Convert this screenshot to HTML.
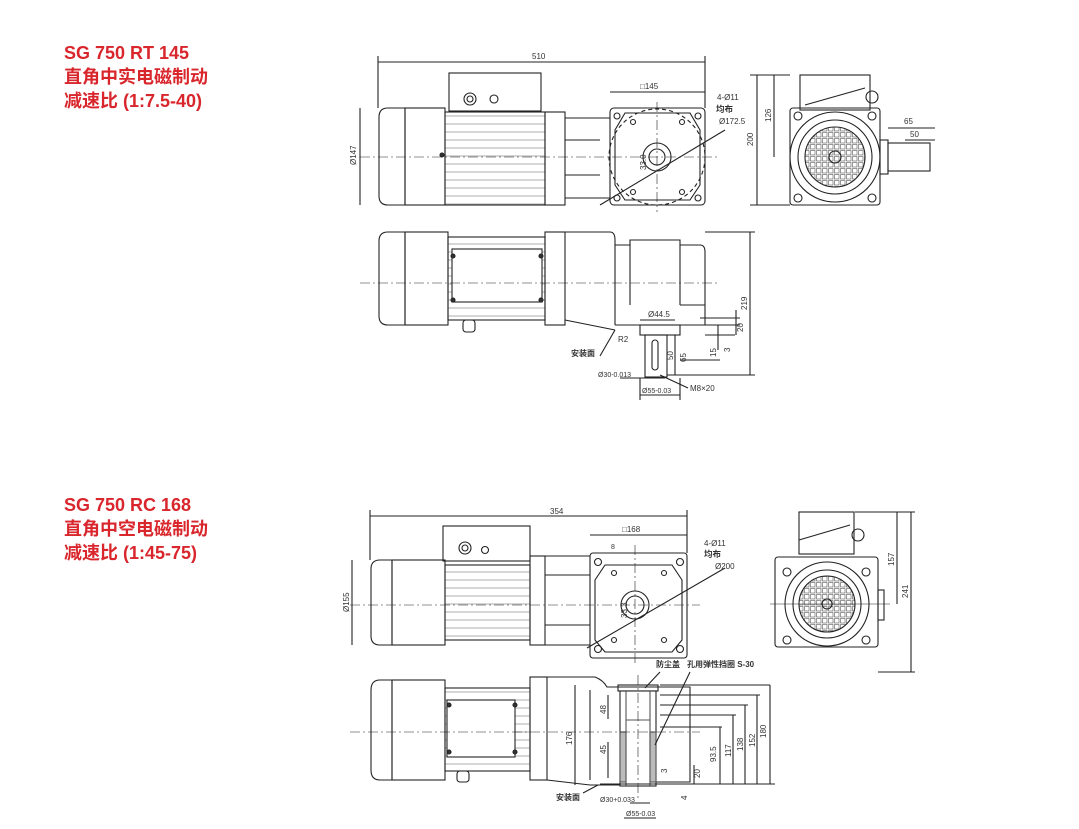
<!DOCTYPE html>
<html><head><meta charset="utf-8"><style>
html,body{margin:0;padding:0;background:#fff;width:1079px;height:829px;overflow:hidden}
.t{position:absolute;left:64px;color:#d9262c;font-family:"Liberation Sans","Noto Sans CJK SC",sans-serif;font-weight:bold;font-size:18px;line-height:24px}
svg{position:absolute;left:0;top:0}
</style></head><body>
<div class="t" style="top:41px">SG 750 RT 145<br>直角中实电磁制动<br>减速比 (1:7.5-40)</div>
<div class="t" style="top:493px">SG 750 RC 168<br>直角中空电磁制动<br>减速比 (1:45-75)</div>
<svg width="1079" height="829" viewBox="0 0 1079 829" font-family="Liberation Sans,Noto Sans CJK SC,sans-serif" font-size="8" fill="none" stroke="#222" stroke-width="1.1">
<defs><pattern id="g" width="6" height="6" patternUnits="userSpaceOnUse"><rect x="0.5" y="0.5" width="4.5" height="4.5" fill="#fff" stroke="#555" stroke-width="0.6"/></pattern>
<pattern id="fin" width="8" height="8" patternUnits="userSpaceOnUse"><line x1="0" y1="4" x2="8" y2="4" stroke="#777" stroke-width="0.6"/></pattern></defs>

<!-- ===== TOP VIEW 1 ===== -->
<line x1="378" y1="62" x2="705" y2="62"/><line x1="378" y1="56" x2="378" y2="108"/><line x1="705" y1="56" x2="705" y2="108"/>
<text x="532" y="59" fill="#333" stroke="none">510</text>
<rect x="449" y="73" width="92" height="38"/><circle cx="470" cy="99" r="6"/><circle cx="470" cy="99" r="3"/><circle cx="494" cy="99" r="4"/>
<path d="M388 108 H405 V205 H388 Q379 205 379 196 V117 Q379 108 388 108Z"/>
<rect x="405" y="108" width="40" height="97"/>
<rect x="445" y="112" width="100" height="93" fill="url(#fin)"/>
<circle cx="442" cy="155" r="2" fill="#333"/>
<rect x="545" y="112" width="20" height="93"/><path d="M565 118 H610 M565 198 H610 M565 140 H600 M565 175 H600"/>
<rect x="610" y="108" width="95" height="97" rx="4"/>
<path d="M625 113 H690 L700 130 V185 L690 200 H625 L615 185 V130Z"/>
<circle cx="657" cy="157" r="48" stroke-dasharray="4 3"/>
<circle cx="657" cy="157" r="14"/><circle cx="657" cy="157" r="8"/>
<circle cx="617" cy="116" r="3"/><circle cx="698" cy="116" r="3"/><circle cx="617" cy="198" r="3"/><circle cx="698" cy="198" r="3"/>
<circle cx="633" cy="122" r="2.5"/><circle cx="682" cy="122" r="2.5"/><circle cx="633" cy="192" r="2.5"/><circle cx="682" cy="192" r="2.5"/>
<line x1="360" y1="157" x2="720" y2="157" stroke-dasharray="10 3 2 3" stroke-width="0.6"/>
<line x1="657" y1="102" x2="657" y2="212" stroke-dasharray="10 3 2 3" stroke-width="0.6"/>
<line x1="360" y1="108" x2="360" y2="205"/><text x="356" y="165" fill="#333" stroke="none" transform="rotate(-90 356 165)">Ø147</text>
<line x1="610" y1="92" x2="705" y2="92"/><text x="640" y="89" fill="#333" stroke="none">□145</text>
<line x1="600" y1="205" x2="725" y2="130"/><text x="717" y="100" fill="#333" stroke="none">4-Ø11</text>
<text x="716" y="112" fill="#333" stroke="none" font-weight="bold" font-size="8.5">均布</text><text x="719" y="124" fill="#333" stroke="none">Ø172.5</text>
<text x="646" y="170" fill="#333" stroke="none" transform="rotate(-90 646 170)">33.0</text>
<!-- right view 1 -->
<rect x="800" y="75" width="70" height="35"/><path d="M805 105 L865 88"/><circle cx="872" cy="97" r="6"/>
<rect x="790" y="108" width="90" height="97" rx="3"/>
<circle cx="835" cy="157" r="45"/><circle cx="835" cy="157" r="37"/>
<circle cx="835" cy="157" r="30" fill="url(#g)"/><circle cx="835" cy="157" r="6"/>
<circle cx="798" cy="116" r="4"/><circle cx="872" cy="116" r="4"/><circle cx="798" cy="198" r="4"/><circle cx="872" cy="198" r="4"/>
<rect x="880" y="140" width="8" height="34"/><rect x="888" y="143" width="42" height="28"/>
<line x1="757" y1="75" x2="757" y2="205"/><text x="753" y="146" fill="#333" stroke="none" transform="rotate(-90 753 146)">200</text>
<line x1="774" y1="75" x2="774" y2="157"/><text x="771" y="122" fill="#333" stroke="none" transform="rotate(-90 771 122)">126</text>
<line x1="888" y1="128" x2="935" y2="128"/><text x="904" y="124" fill="#333" stroke="none">65</text>
<line x1="905" y1="140" x2="935" y2="140"/><text x="910" y="137" fill="#333" stroke="none">50</text>
<line x1="750" y1="75" x2="790" y2="75"/><line x1="750" y1="205" x2="790" y2="205"/>

<!-- ===== SIDE VIEW 1 ===== -->
<path d="M388 232 H405 V325 H388 Q379 325 379 316 V241 Q379 232 388 232Z"/>
<rect x="405" y="232" width="43" height="93"/>
<rect x="448" y="237" width="97" height="83" fill="url(#fin)"/>
<rect x="452" y="249" width="90" height="53" fill="#fff"/>
<circle cx="453" cy="256" r="2" fill="#333"/><circle cx="541" cy="256" r="2" fill="#333"/><circle cx="453" cy="300" r="2" fill="#333"/><circle cx="541" cy="300" r="2" fill="#333"/>
<rect x="463" y="320" width="12" height="12" rx="3"/>
<rect x="545" y="232" width="20" height="93"/>
<path d="M565 232 H610 Q615 232 615 240 V325 M565 320 L615 330"/>
<path d="M615 245 H630 V240 H680 V245 H700 Q705 245 705 252 V325 H615"/>
<path d="M630 245 V305 M680 245 V305 M680 305 H705"/>
<rect x="640" y="325" width="40" height="10"/>
<rect x="645" y="335" width="22" height="42"/><rect x="652" y="340" width="6" height="30" rx="3"/>
<line x1="360" y1="283" x2="720" y2="283" stroke-dasharray="10 3 2 3" stroke-width="0.6"/>
<line x1="750" y1="232" x2="750" y2="375"/><line x1="705" y1="232" x2="755" y2="232"/><line x1="667" y1="375" x2="755" y2="375"/>
<text x="747" y="310" fill="#333" stroke="none" transform="rotate(-90 747 310)">219</text>
<line x1="640" y1="320" x2="675" y2="320"/><text x="648" y="317" fill="#333" stroke="none">Ø44.5</text>
<path d="M700 318 H740 M700 325 H740 M705 335 H735 M680 360 H720"/>
<line x1="736" y1="310" x2="736" y2="335"/><text x="743" y="332" fill="#333" stroke="none" transform="rotate(-90 743 332)">20</text>
<line x1="718" y1="325" x2="718" y2="350"/><text x="716" y="357" fill="#333" stroke="none" transform="rotate(-90 716 357)">15</text>
<text x="730" y="352" fill="#333" stroke="none" transform="rotate(-90 730 352)">3</text>
<line x1="675" y1="335" x2="675" y2="375"/><text x="686" y="362" fill="#333" stroke="none" transform="rotate(-90 686 362)">65</text>
<text x="673" y="360" fill="#333" stroke="none" transform="rotate(-90 673 360)">50</text>
<text x="618" y="342" fill="#333" stroke="none">R2</text>
<line x1="600" y1="356" x2="615" y2="330"/><text x="571" y="356" fill="#333" stroke="none" font-weight="bold">安装面</text>
<line x1="620" y1="378" x2="665" y2="378"/><text x="598" y="377" fill="#333" stroke="none" font-size="7">Ø30-0.013</text>
<line x1="640" y1="395" x2="680" y2="395"/><line x1="640" y1="378" x2="640" y2="400"/><line x1="680" y1="378" x2="680" y2="400"/>
<text x="642" y="393" fill="#333" stroke="none" font-size="7">Ø55-0.03</text>
<line x1="660" y1="375" x2="688" y2="388"/><text x="690" y="391" fill="#333" stroke="none">M8×20</text>

<!-- ===== TOP VIEW 2 ===== -->
<line x1="370" y1="516" x2="687" y2="516"/><line x1="370" y1="510" x2="370" y2="560"/><line x1="687" y1="510" x2="687" y2="553"/>
<text x="550" y="514" fill="#333" stroke="none">354</text>
<rect x="443" y="526" width="87" height="35"/><circle cx="465" cy="548" r="6"/><circle cx="465" cy="548" r="3"/><circle cx="485" cy="550" r="3.5"/>
<path d="M380 560 H392 V645 H380 Q371 645 371 636 V569 Q371 560 380 560Z"/>
<rect x="392" y="560" width="53" height="85"/>
<rect x="445" y="565" width="85" height="75" fill="url(#fin)"/>
<rect x="530" y="556" width="15" height="89"/><path d="M545 556 H590 M545 645 H590 M545 575 H590 M545 625 H590"/>
<rect x="590" y="553" width="97" height="105" rx="3"/>
<path d="M605 565 H672 L682 580 V640 L672 652 H605 L595 640 V580Z"/>
<circle cx="635" cy="605" r="14"/><circle cx="635" cy="605" r="9"/>
<circle cx="598" cy="562" r="3.5"/><circle cx="680" cy="562" r="3.5"/><circle cx="598" cy="649" r="3.5"/><circle cx="680" cy="649" r="3.5"/>
<circle cx="614" cy="573" r="2.5"/><circle cx="664" cy="573" r="2.5"/><circle cx="614" cy="640" r="2.5"/><circle cx="664" cy="640" r="2.5"/>
<line x1="350" y1="605" x2="700" y2="605" stroke-dasharray="10 3 2 3" stroke-width="0.6"/>
<line x1="635" y1="545" x2="635" y2="665" stroke-dasharray="10 3 2 3" stroke-width="0.6"/>
<line x1="352" y1="560" x2="352" y2="645"/><text x="349" y="612" fill="#333" stroke="none" transform="rotate(-90 349 612)">Ø155</text>
<line x1="590" y1="535" x2="687" y2="535"/><text x="622" y="532" fill="#333" stroke="none">□168</text>
<text x="611" y="549" fill="#333" stroke="none" font-size="7">8</text>
<line x1="587" y1="648" x2="725" y2="568"/><text x="704" y="546" fill="#333" stroke="none">4-Ø11</text>
<text x="704" y="557" fill="#333" stroke="none" font-weight="bold" font-size="8.5">均布</text><text x="715" y="569" fill="#333" stroke="none">Ø200</text>
<text x="627" y="618" fill="#333" stroke="none" transform="rotate(-90 627 618)">33.3</text>
<!-- right view 2 -->
<rect x="799" y="512" width="55" height="42"/><path d="M799 540 L850 525"/><circle cx="858" cy="535" r="6"/>
<rect x="775" y="557" width="103" height="90" rx="3"/>
<circle cx="827" cy="604" r="42"/><circle cx="827" cy="604" r="34"/>
<circle cx="827" cy="604" r="28" fill="url(#g)"/><circle cx="827" cy="604" r="5"/>
<circle cx="787" cy="572" r="4"/><circle cx="866" cy="572" r="4"/><circle cx="787" cy="640" r="4"/><circle cx="866" cy="640" r="4"/>
<rect x="878" y="590" width="6" height="30"/>
<line x1="770" y1="604" x2="890" y2="604" stroke-width="0.6"/>
<line x1="897" y1="512" x2="897" y2="604"/><text x="894" y="566" fill="#333" stroke="none" transform="rotate(-90 894 566)">157</text>
<line x1="911" y1="512" x2="911" y2="672"/><text x="908" y="598" fill="#333" stroke="none" transform="rotate(-90 908 598)">241</text>
<line x1="855" y1="512" x2="915" y2="512"/><line x1="878" y1="672" x2="915" y2="672"/>

<!-- ===== SIDE VIEW 2 ===== -->
<path d="M380 680 H392 V780 H380 Q371 780 371 770 V690 Q371 680 380 680Z"/>
<rect x="392" y="680" width="53" height="100"/>
<rect x="445" y="688" width="85" height="83" fill="url(#fin)"/>
<rect x="447" y="700" width="68" height="57" fill="#fff"/>
<circle cx="449" cy="705" r="2" fill="#333"/><circle cx="515" cy="705" r="2" fill="#333"/><circle cx="449" cy="752" r="2" fill="#333"/><circle cx="515" cy="752" r="2" fill="#333"/>
<rect x="457" y="771" width="12" height="11" rx="3"/>
<rect x="530" y="677" width="17" height="103"/>
<path d="M547 677 H595 Q603 680 607 687 H690 V782 H640 M547 780 L590 785 H620"/>
<path d="M590 690 V780"/>
<rect x="618" y="685" width="40" height="6"/>
<rect x="620" y="691" width="36" height="95" fill="#fff"/>
<path d="M626 691 V786 M650 691 V786 M626 720 H650" stroke="#555"/>
<rect x="620" y="732" width="6" height="50" fill="#bbb" stroke="#555"/><rect x="650" y="732" width="6" height="50" fill="#bbb" stroke="#555"/>
<line x1="350" y1="732" x2="700" y2="732" stroke-dasharray="10 3 2 3" stroke-width="0.6"/>
<line x1="638" y1="675" x2="638" y2="800" stroke-dasharray="10 3 2 3" stroke-width="0.6"/>
<line x1="575" y1="685" x2="575" y2="785"/><text x="572" y="745" fill="#333" stroke="none" transform="rotate(-90 572 745)">176</text>
<line x1="608" y1="695" x2="608" y2="719"/><text x="606" y="714" fill="#333" stroke="none" transform="rotate(-90 606 714)">48</text>
<line x1="608" y1="742" x2="608" y2="778"/><text x="606" y="754" fill="#333" stroke="none" transform="rotate(-90 606 754)">45</text>
<path d="M660 685 H770 M660 695 H760 M660 705 H748 M660 715 H736 M660 727 H722 M600 784 H775"/>
<line x1="770" y1="685" x2="770" y2="784"/><text x="766" y="738" fill="#333" stroke="none" transform="rotate(-90 766 738)">180</text>
<line x1="757" y1="695" x2="757" y2="784"/><text x="755" y="747" fill="#333" stroke="none" transform="rotate(-90 755 747)">152</text>
<line x1="745" y1="705" x2="745" y2="784"/><text x="743" y="751" fill="#333" stroke="none" transform="rotate(-90 743 751)">138</text>
<line x1="733" y1="715" x2="733" y2="784"/><text x="731" y="757" fill="#333" stroke="none" transform="rotate(-90 731 757)">117</text>
<line x1="720" y1="727" x2="720" y2="784"/><text x="716" y="762" fill="#333" stroke="none" transform="rotate(-90 716 762)">93.5</text>
<line x1="694" y1="765" x2="694" y2="784"/><text x="700" y="778" fill="#333" stroke="none" transform="rotate(-90 700 778)">20</text>
<text x="667" y="773" fill="#333" stroke="none" transform="rotate(-90 667 773)">3</text>
<text x="687" y="800" fill="#333" stroke="none" transform="rotate(-90 687 800)">4</text>
<line x1="660" y1="672" x2="645" y2="688"/><text x="656" y="667" fill="#333" stroke="none" font-weight="bold">防尘盖</text>
<line x1="690" y1="672" x2="655" y2="745"/><text x="687" y="667" fill="#333" stroke="none" font-weight="bold">孔用弹性挡圈 S-30</text>
<line x1="583" y1="793" x2="598" y2="785"/><text x="556" y="800" fill="#333" stroke="none" font-weight="bold">安装面</text>
<line x1="630" y1="803" x2="650" y2="803"/><text x="600" y="802" fill="#333" stroke="none" font-size="7">Ø30+0.033</text>
<line x1="624" y1="818" x2="656" y2="818"/><text x="626" y="816" fill="#333" stroke="none" font-size="7">Ø55-0.03</text>
</svg>
</body></html>
